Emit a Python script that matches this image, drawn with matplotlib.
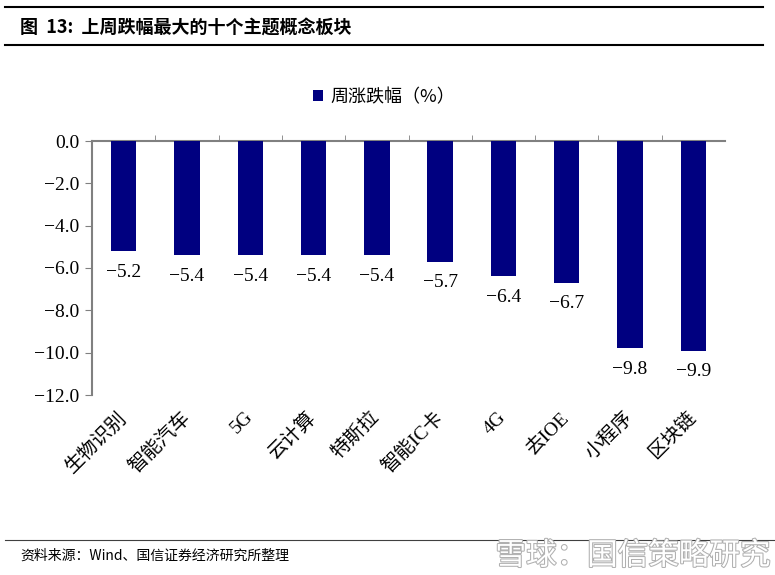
import matplotlib
matplotlib.use('Agg')
import matplotlib.pyplot as plt
import matplotlib.patheffects as pe
from matplotlib.lines import Line2D
import numpy as np

categories = ['生物识别', '智能汽车', '5G', '云计算', '特斯拉',
              '智能IC卡', '4G', '去IOE', '小程序', '区块链']
weekly_change = [-5.2, -5.4, -5.4, -5.4, -5.4, -5.7, -6.4, -6.7, -9.8, -9.9]
y_ticks = [0.0, -2.0, -4.0, -6.0, -8.0, -10.0, -12.0]

NAVY = '#000080'
GRAY = '#808080'
CJK = ['Noto Sans CJK SC', 'DejaVu Sans']
MIXED = ['Liberation Serif', 'Noto Sans CJK SC']


def fmt(v):
    return f'{v:.1f}'.replace('-', '\u2212')


def main():
    plt.rcParams['font.family'] = MIXED
    fig = plt.figure(figsize=(7.75, 5.75), dpi=100)
    ax = fig.add_axes([92 / 775, 1 - 395 / 575, (725 - 92) / 775, (395 - 141) / 575])

    x = np.arange(len(categories))
    ax.bar(x, weekly_change, width=0.4, color=NAVY, label='周涨跌幅（%）', zorder=3)

    for xi, v in zip(x, weekly_change):
        ax.annotate(fmt(v), xy=(xi, v), xytext=(0, -9),
                    textcoords='offset points', ha='center', va='top',
                    fontsize=14, family=MIXED)

    ax.set_xlim(-0.5, len(categories) - 0.5)
    ax.set_ylim(-12, 0)
    ax.set_yticks(y_ticks)
    ax.set_yticklabels([fmt(t) for t in y_ticks], fontsize=14, family=MIXED)
    ax.tick_params(axis='y', direction='out', length=5, color=GRAY, pad=4)

    ax.set_xticks(x)
    ax.set_xticklabels(categories, rotation=45, ha='right', va='center',
                       rotation_mode='anchor', fontsize=14, family=MIXED)
    ax.tick_params(axis='x', which='major', length=0, pad=14)
    ax.set_xticks(np.arange(0.5, len(categories) - 0.5, 1.0), minor=True)
    ax.tick_params(axis='x', which='minor', top=True, bottom=False,
                   direction='out', length=4, color=GRAY)

    for s in ['right', 'bottom']:
        ax.spines[s].set_visible(False)
    for s in ['left', 'top']:
        ax.spines[s].set_color(GRAY)
        ax.spines[s].set_linewidth(1.5)

    ax.legend(loc='center', bbox_to_anchor=(384 / 775, 1 - 97 / 575),
              bbox_transform=fig.transFigure, frameon=False,
              handlelength=0.6, handleheight=0.6, handletextpad=0.4,
              prop={'family': CJK, 'size': 13})

    # header and footer rules
    for yy in [1 - 7 / 575, 1 - 45 / 575]:
        fig.add_artist(Line2D([5 / 775, 763 / 775], [yy, yy], color='black', lw=1.5))
    fig.add_artist(Line2D([5 / 775, 775 / 775], [1 - 540 / 575] * 2, color='#404040', lw=0.8))

    fig.text(20 / 775, 1 - 27 / 575, '图  13:  上周跌幅最大的十个主题概念板块',
             fontsize=13, fontweight='bold', family=CJK, va='center', ha='left')
    fig.text(20 / 775, 1 - 556 / 575, '资料来源：Wind、国信证券经济研究所整理',
             fontsize=10, family=CJK, va='center', ha='left')

    fig.text(770 / 775, 1 - 556 / 575, '雪球：国信策略研究', fontsize=22,
             family=CJK, va='center', ha='right', color='white',
             path_effects=[pe.withStroke(linewidth=1.5, foreground='#b0b0b0')])

    fig.savefig('out.png', dpi=100)


if __name__ == '__main__':
    main()
